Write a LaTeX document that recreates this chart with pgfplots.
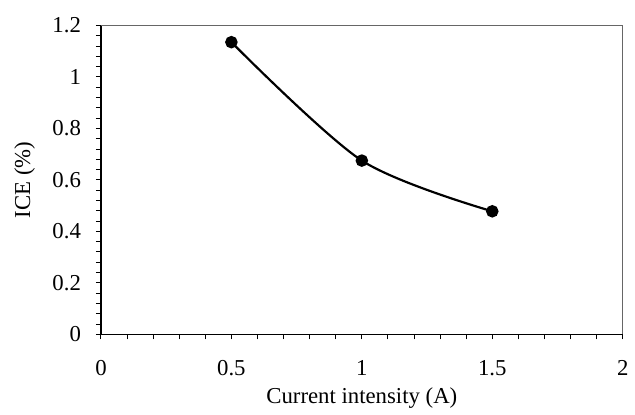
\documentclass[border=0pt]{standalone}
\usepackage{pgfplots}
\pgfplotsset{compat=1.18}
\usepackage{fontspec}
\setmainfont{Liberation Serif}
\begin{document}
\begin{tikzpicture}
\begin{axis}[
  scale only axis, width=263.5pt, height=156pt,
  xmin=0, xmax=2, ymin=0, ymax=1.2,
  xtick={0,0.5,1,1.5,2}, ytick={0,0.2,0.4,0.6,0.8,1,1.2},
  minor x tick num=4, minor y tick num=4,
  axis x line*=bottom, axis y line*=left,
  axis line style={black,line width=0.6pt,-},
  tick style={black,line width=0.5pt},
  tick align=outside,
  major tick length=2.6pt, minor tick length=2.6pt,
  tick label style={font=\fontsize{11.5}{13}\selectfont,
    /pgf/number format/assume math mode=true},
  label style={font=\fontsize{11.5}{13}\selectfont},
  xticklabel style={yshift=-7pt},
  yticklabel style={xshift=-4pt},
  xlabel={Current intensity (A)},
  ylabel={ICE (\%)},
  xlabel style={yshift=1pt},
  ylabel style={yshift=2pt},
  clip=false,
]
\addplot[black,line width=1.1pt,smooth,mark=*,mark size=2.6pt,
  mark options={fill=black}] coordinates {(0.5,1.135) (1,0.675) (1.5,0.478)};
\draw[black!60,line width=0.6pt] (rel axis cs:0,1) -- (rel axis cs:1,1) -- (rel axis cs:1,0);
\path (rel axis cs:-0.1935,-0.2606) rectangle (rel axis cs:1.0114,1.0824);
\end{axis}
\end{tikzpicture}
\end{document}
